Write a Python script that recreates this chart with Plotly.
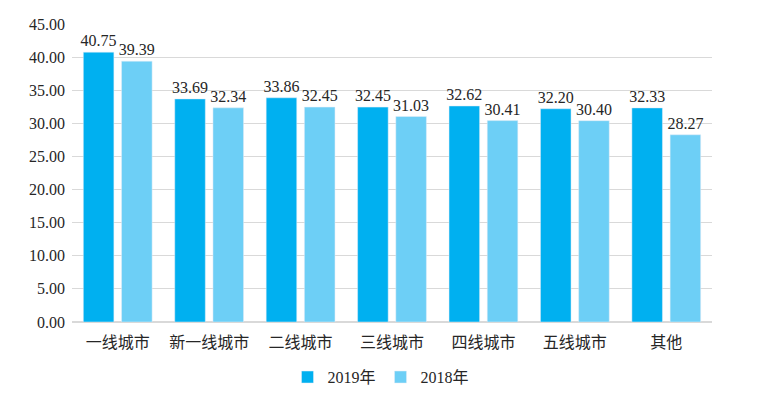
import plotly.graph_objects as go

categories = ["一线城市", "新一线城市", "二线城市", "三线城市", "四线城市", "五线城市", "其他"]
values_2019 = [40.75, 33.69, 33.86, 32.45, 32.62, 32.20, 32.33]
values_2018 = [39.39, 32.34, 32.45, 31.03, 30.41, 30.40, 28.27]
series_names = ["2019年", "2018年"]

FONT = "Liberation Serif, Noto Sans CJK SC"
FS = 16

fig = go.Figure()
for vals, name, color in [(values_2019, series_names[0], "#00B0F0"),
                          (values_2018, series_names[1], "#6DCFF6")]:
    fig.add_trace(go.Bar(
        x=categories, y=vals, name=name,
        marker_color=color,
        text=[f"{v:.2f}" for v in vals], textposition="outside",
        constraintext="none",
        textfont=dict(size=FS, color="#262626", family=FONT), cliponaxis=False,
    ))

fig.update_layout(
    width=746, height=383,
    margin=dict(l=64, r=42, t=16, b=69, autoexpand=False),
    paper_bgcolor="white", plot_bgcolor="white",
    barmode="group", bargap=0.164, bargroupgap=0.2,
    font=dict(family=FONT, size=FS, color="#262626"),
    showlegend=True,
    legend=dict(orientation="h", x=0.5, xanchor="center", xref="container",
                y=-0.185, yanchor="middle",
                font=dict(size=FS, family=FONT), itemwidth=30, tracegroupgap=0),
    yaxis=dict(range=[0, 45], dtick=5, tickformat=".2f", showgrid=True,
               gridcolor="#D9D9D9", gridwidth=1, zeroline=True, zerolinecolor="#D9D9D9",
               showline=False, ticks="", ticklabelstandoff=6,
               tickfont=dict(size=FS, family=FONT, color="#262626")),
    xaxis=dict(showline=True, linecolor="#D9D9D9", ticks="", ticklabelstandoff=6,
               tickfont=dict(size=FS, family=FONT, color="#262626")),
)

fig.write_html("out.html")
